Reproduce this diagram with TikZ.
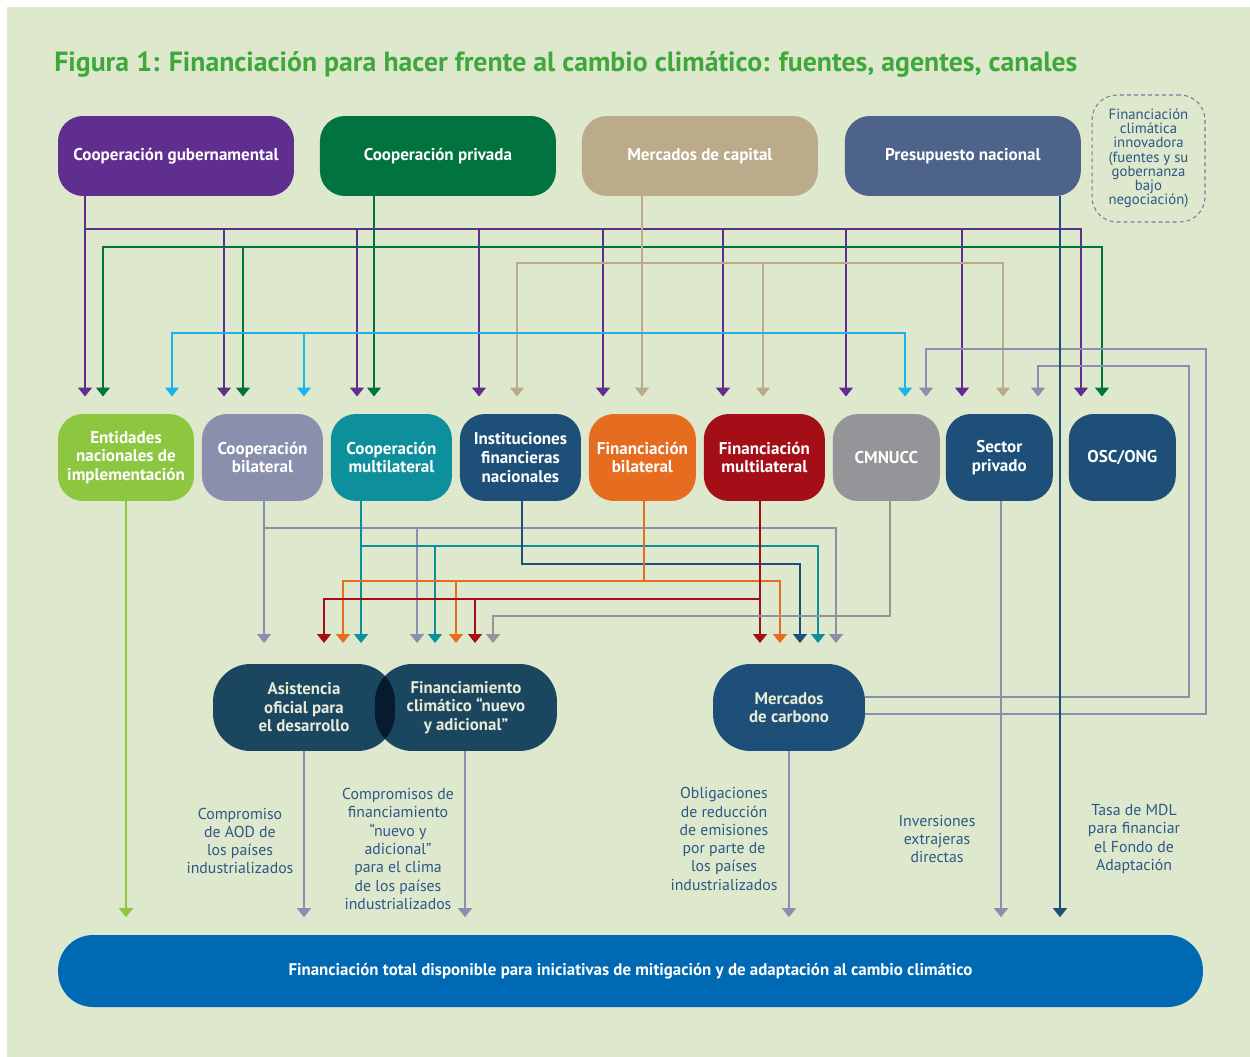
\documentclass[tikz,border=0pt]{standalone}
\usepackage{fontspec}
\setmainfont{PT Sans}
\usetikzlibrary{arrows.meta}
\usetikzlibrary{positioning}

\definecolor{fondo}{HTML}{DDE8CD}
\definecolor{verdetit}{HTML}{3FA83A}
\definecolor{morado}{HTML}{5F2E8F}
\definecolor{verdeosc}{HTML}{00733F}
\definecolor{arena}{HTML}{BCAB8B}
\definecolor{pizarra}{HTML}{4D6389}
\definecolor{verdeclaro}{HTML}{8DC63F}
\definecolor{azulgris}{HTML}{8A8FAD}
\definecolor{turquesa}{HTML}{0E909C}
\definecolor{marino}{HTML}{1D4F78}
\definecolor{naranja}{HTML}{E66D20}
\definecolor{granate}{HTML}{A30E17}
\definecolor{gris}{HTML}{959599}
\definecolor{celeste}{HTML}{1CB4E8}
\definecolor{petroleo}{HTML}{1A4660}
\definecolor{solape}{HTML}{061A30}
\definecolor{azulbarra}{HTML}{0069B4}
\definecolor{azultexto}{HTML}{2D5886}
\definecolor{punteado}{HTML}{6F7FA0}
\definecolor{crema}{HTML}{E8EBD6}

\begin{document}
\begin{tikzpicture}[
        x=0.02cm, y=-0.02cm,
        node distance=0.16cm,
        fuente/.style={rectangle, rounded corners=0.5cm, minimum width=4.72cm, minimum height=1.6cm, inner sep=0pt, outer sep=0pt, align=center, text=white, font=\bfseries\fontsize{9.7}{10.6}\selectfont},
        agente/.style={rectangle, rounded corners=0.5cm, minimum width=2.42cm, minimum height=1.74cm, inner sep=0pt, outer sep=0pt, align=center, text=white, font=\bfseries\fontsize{9.7}{10.6}\selectfont},
        canal/.style={rectangle, rounded corners=0.75cm, minimum width=3.64cm, minimum height=1.74cm, inner sep=0pt, outer sep=0pt, align=center, fill=petroleo, text=crema, font=\bfseries\fontsize{9.6}{10.5}\selectfont},
        nota/.style={align=center, inner sep=0pt, text=azultexto, font=\fontsize{9}{10.4}\selectfont},
        flujo/.style={draw=#1, line width=0.85pt, -{Triangle[width=0.28cm,length=0.18cm]}, shorten >=0.35cm},
        baja/.style={shorten >=0.42cm}
        ]

        % fondo y marco de la figura
        \useasboundingbox (0,0) rectangle (1250,1057);
        \fill[white] (0,0) rectangle (1250,1057);
        \fill[fondo] (7,7) rectangle (1250,1057);

        \node (titulo) [anchor=west, inner sep=0pt, text=verdetit, font=\bfseries\fontsize{15.8}{18}\selectfont] at (54,64)
            {Figura 1: Financiación para hacer frente al cambio climático: fuentes, agentes, canales};

        % Fuentes
        \node (gub)     [fuente, fill=morado] at (176,156)        {Cooperación gubernamental};
        \node (priv)    [fuente, fill=verdeosc, right=0.52cm of gub]  {Cooperación privada};
        \node (capital) [fuente, fill=arena, right=0.52cm of priv]    {Mercados de capital};
        \node (presup)  [fuente, fill=pizarra, right=0.54cm of capital] {Presupuesto nacional};
        \node (innov)   [draw=punteado, line width=0.6pt, dash pattern=on 2.2pt off 1.8pt, rounded corners=0.5cm,
                         minimum width=2.26cm, minimum height=2.54cm, inner sep=0pt, align=center, text=azultexto,
                         font=\fontsize{8.4}{8.1}\selectfont] at (1148.5,158.5)
            {Financiación\\climática\\innovadora\\(fuentes y su\\gobernanza\\bajo\\negociación)};

        % Agentes
        \node (ent)     [agente, fill=verdeclaro, minimum width=2.72cm] at (126,457.5) {Entidades\\nacionales de\\implementación};
        \node (bilat)   [agente, fill=azulgris, right=of ent]     {Cooperación\\bilateral};
        \node (multi)   [agente, fill=turquesa, right=of bilat]   {Cooperación\\multilateral};
        \node (ifn)     [agente, fill=marino, right=of multi]     {Instituciones\\financieras\\nacionales};
        \node (finbi)   [agente, fill=naranja, minimum width=2.14cm, right=of ifn]  {Financiación\\bilateral};
        \node (finmul)  [agente, fill=granate, right=of finbi]    {Financiación\\multilateral};
        \node (cmnucc)  [agente, fill=gris, minimum width=2.14cm, right=of finmul]  {CMNUCC};
        \node (privado) [agente, fill=marino, minimum width=2.14cm, right=0.12cm of cmnucc] {Sector\\privado};
        \node (osc)     [agente, fill=marino, minimum width=2.14cm, right=0.32cm of privado] {OSC/ONG};

        % Canales
        \node (aod)     [canal] at (304,707.5) {Asistencia\\oficial para\\el desarrollo};
        \node (fcna)    [canal, right=-0.4cm of aod] {Financiamiento\\climático “nuevo\\y adicional”};
        \node (carbono) [canal, fill=marino, minimum width=3.04cm] at (789,707.5) {Mercados\\de carbono};
        \begin{scope}
            \clip[rounded corners=0.75cm] (aod.south west) rectangle (aod.north east);
            \fill[solape, rounded corners=0.75cm] (fcna.south west) rectangle (fcna.north east);
        \end{scope}

        \node (total) [rectangle, rounded corners=0.7cm, fill=azulbarra, minimum width=22.9cm, minimum height=1.44cm,
                       text=white, font=\bfseries\fontsize{9.6}{10}\selectfont] at (630.5,971)
            {Financiación total disponible para iniciativas de mitigación y de adaptación al cambio climático};

        % Notas sobre los flujos finales
        \node (notaaod)  [nota] at (240,841)  {Compromiso\\de AOD de\\los países\\industrializados};
        \node (notafcna) [nota] at (398,849)  {Compromisos de\\financiamiento\\“nuevo y\\adicional”\\para el clima\\de los países\\industrializados};
        \node (notacarb) [nota] at (724,839)  {Obligaciones\\de reducción\\de emisiones\\por parte de\\los países\\industrializados};
        \node (notaied)  [nota] at (937,839)  {Inversiones\\extrajeras\\directas};
        \node (notamdl)  [nota] at (1134,839) {Tasa de MDL\\para financiar\\el Fondo de\\Adaptación};

        % Cooperacion gubernamental
        \coordinate (busgub) at (85,229);
        \draw[flujo=morado] (gub.south -| busgub) -- (ent.north -| busgub);
        \draw[flujo=morado] (gub.south -| busgub) -- (busgub) -| (bilat.north -| 224,0);
        \draw[flujo=morado] (gub.south -| busgub) -- (busgub) -| (multi.north -| 357,0);
        \draw[flujo=morado] (gub.south -| busgub) -- (busgub) -| (ifn.north -| 479,0);
        \draw[flujo=morado] (gub.south -| busgub) -- (busgub) -| (finbi.north -| 603,0);
        \draw[flujo=morado] (gub.south -| busgub) -- (busgub) -| (finmul.north -| 723,0);
        \draw[flujo=morado] (gub.south -| busgub) -- (busgub) -| (cmnucc.north -| 846,0);
        \draw[flujo=morado] (gub.south -| busgub) -- (busgub) -| (privado.north -| 962,0);
        \draw[flujo=morado] (gub.south -| busgub) -- (busgub) -| (osc.north -| 1081,0);

        % Cooperacion privada
        \coordinate (buspriv) at (374,247);
        \draw[flujo=verdeosc] (priv.south -| buspriv) -- (multi.north -| buspriv);
        \draw[flujo=verdeosc] (priv.south -| buspriv) -- (buspriv) -| (ent.north -| 103,0);
        \draw[flujo=verdeosc] (priv.south -| buspriv) -- (buspriv) -| (bilat.north -| 243,0);
        \draw[flujo=verdeosc] (priv.south -| buspriv) -- (buspriv) -| (osc.north -| 1102,0);

        % Mercados de capital
        \coordinate (buscap) at (642,263);
        \draw[flujo=arena] (capital.south -| buscap) -- (finbi.north -| buscap);
        \draw[flujo=arena] (capital.south -| buscap) -- (buscap) -| (ifn.north -| 517,0);
        \draw[flujo=arena] (capital.south -| buscap) -- (buscap) -| (finmul.north -| 763,0);
        \draw[flujo=arena] (capital.south -| buscap) -- (buscap) -| (privado.north -| 1003,0);

        % linea celeste
        \coordinate (celizq) at (172,333);
        \coordinate (celder) at (905,333);
        \draw[flujo=celeste] (celder) -- (celizq) -- (ent.north -| celizq);
        \draw[flujo=celeste] (celizq) -| (bilat.north -| 304,0);
        \draw[flujo=celeste] (celizq) -- (celder) -- (cmnucc.north -| celder);

        % Mercados de carbono hacia CMNUCC y sector privado
        \draw[flujo=azulgris] (carbono.east |- 0,714) -| (1206,349) -| (cmnucc.north -| 926,0);
        \draw[flujo=azulgris] (carbono.east |- 0,697) -| (1189,366) -| (privado.north -| 1038,0);

        % Agentes hacia canales
        \coordinate (busbil) at (264,528);
        \draw[flujo=azulgris, baja] (bilat.south -| busbil) -- (aod.north -| busbil);
        \draw[flujo=azulgris, baja] (bilat.south -| busbil) -- (busbil) -| (fcna.north -| 417,0);
        \draw[flujo=azulgris, baja] (bilat.south -| busbil) -- (busbil) -| (carbono.north -| 836,0);

        \coordinate (busmul) at (361,546);
        \draw[flujo=turquesa, baja] (multi.south -| busmul) -- (aod.north -| busmul);
        \draw[flujo=turquesa, baja] (multi.south -| busmul) -- (busmul) -| (fcna.north -| 435,0);
        \draw[flujo=turquesa, baja] (multi.south -| busmul) -- (busmul) -| (carbono.north -| 818,0);

        \coordinate (busifn) at (522,564);
        \draw[flujo=marino, baja] (ifn.south -| busifn) -- (busifn) -| (carbono.north -| 800,0);

        \coordinate (busfbi) at (644,581);
        \draw[flujo=naranja, baja] (finbi.south -| busfbi) -- (busfbi) -| (aod.north -| 343,0);
        \draw[flujo=naranja, baja] (finbi.south -| busfbi) -- (busfbi) -| (fcna.north -| 456,0);
        \draw[flujo=naranja, baja] (finbi.south -| busfbi) -- (busfbi) -| (carbono.north -| 780,0);

        \coordinate (busfmu) at (760,599);
        \draw[flujo=granate, baja] (finmul.south -| busfmu) -- (carbono.north -| busfmu);
        \draw[flujo=granate, baja] (finmul.south -| busfmu) -- (busfmu) -| (aod.north -| 324,0);
        \draw[flujo=granate, baja] (finmul.south -| busfmu) -- (busfmu) -| (fcna.north -| 475,0);

        \coordinate (buscmn) at (890,616);
        \draw[flujo=gris, baja] (cmnucc.south -| buscmn) -- (buscmn) -| (fcna.north -| 493,0);

        % Hacia la financiacion total
        \draw[flujo=verdeclaro] (ent.south -| 126,0) -- (total.north -| 126,0);
        \draw[flujo=azulgris] (aod.south -| 304,0) -- (total.north -| 304,0);
        \draw[flujo=azulgris] (fcna.south -| 465,0) -- (total.north -| 465,0);
        \draw[flujo=azulgris] (carbono.south) -- (total.north -| carbono.south);
        \draw[flujo=azulgris] (privado.south -| 1001,0) -- (total.north -| 1001,0);
        \draw[flujo=marino] (presup.south -| 1060,0) -- (total.north -| 1060,0);

    \end{tikzpicture}
\end{document}
